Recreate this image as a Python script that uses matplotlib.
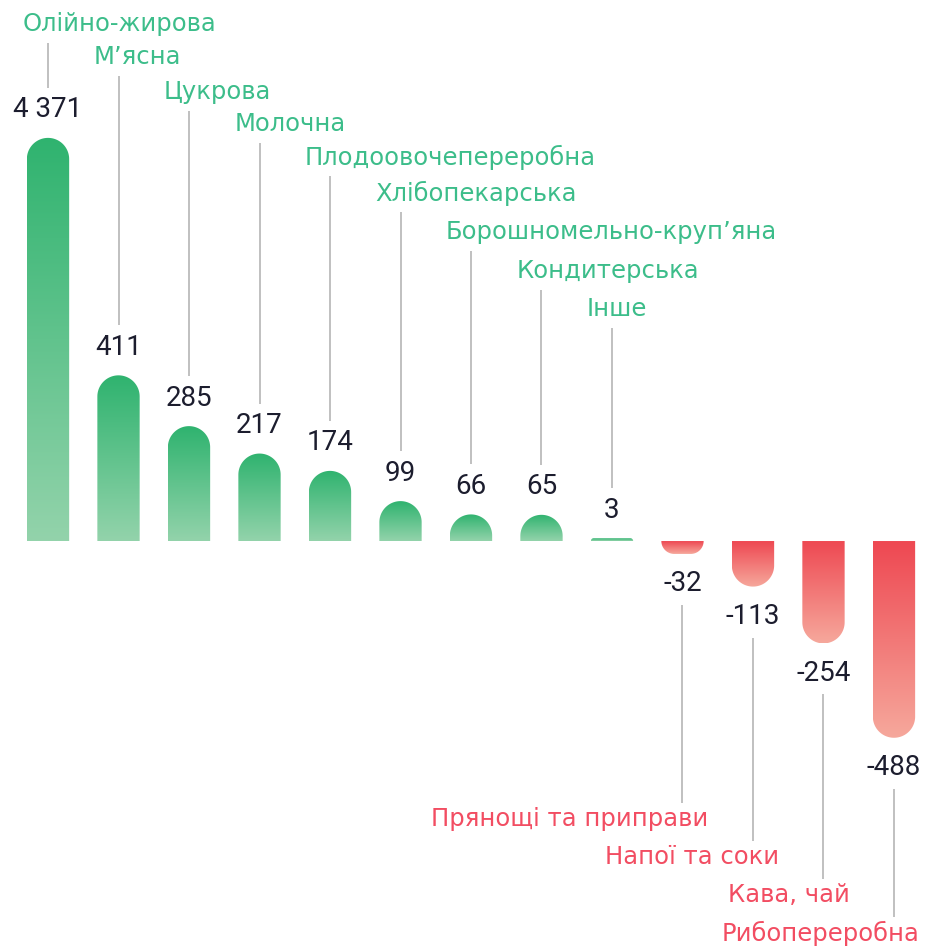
import matplotlib
matplotlib.use("Agg")
import matplotlib.pyplot as plt
import numpy as np
from matplotlib.path import Path
from matplotlib.patches import PathPatch
from matplotlib.colors import to_rgba

# data
categories = [
    "Олійно-жирова", "М’ясна", "Цукрова", "Молочна", "Плодоовочепереробна",
    "Хлібопекарська", "Борошномельно-круп’яна", "Кондитерська", "Інше",
    "Прянощі та приправи", "Напої та соки", "Кава, чай", "Рибопереробна",
]
values = [4371, 411, 285, 217, 174, 99, 66, 65, 3, -32, -113, -254, -488]
value_labels = ["4 371", "411", "285", "217", "174", "99", "66", "65", "3",
                "-32", "-113", "-254", "-488"]

# the biggest bar is cut off (broken scale)
display_cap = 1000
min_visible = 7

# layout (pixels from the top of the picture)
pos_label_rows = [24, 57, 92, 124, 157, 193, 232, 271, 309]
neg_label_rows = [819, 857, 895, 933]

W, H = 931, 947
green_top, green_bot = "#2fb36f", "#93d3ab"
red_top, red_bot = "#ee4852", "#f6a89c"
green_txt, red_txt = "#3cbd8a", "#f24d62"
num_txt = "#1c1d2e"
line_col = "#b5b5b5"

fig = plt.figure(figsize=(W / 100, H / 100), dpi=100)
ax = fig.add_axes([0, 0, 1, 1])
ax.axis("off")
xlim = (-0.681, 12.525)
ylim = (-1007, 1342)

sx = W / (xlim[1] - xlim[0])  # px per x unit
sy = H / (ylim[1] - ylim[0])  # px per y unit


def row_to_y(px):
    return ylim[1] - px / sy


bar_w = 0.6
x = np.arange(len(values))


def rounded_bar(x0, w, h):
    # round the far-end corners, radius in pixels = min(half width, height)
    sign = 1 if h >= 0 else -1
    r_px = min(w / 2 * sx, abs(h) * sy)
    rx, ry = r_px / sx, r_px / sy
    t = np.linspace(0, np.pi / 2, 30)
    # right corner: from side up to top
    c1x = x0 + w - rx + rx * np.cos(t)
    c1y = h - sign * ry + sign * ry * np.sin(t)
    # left corner: from top down to side
    c2x = x0 + rx - rx * np.sin(t)
    c2y = h - sign * ry + sign * ry * np.cos(t)
    verts = [(x0, 0), (x0 + w, 0)] + list(zip(c1x, c1y)) + list(zip(c2x, c2y)) + [(x0, 0)]
    codes = [Path.MOVETO] + [Path.LINETO] * (len(verts) - 2) + [Path.CLOSEPOLY]
    return Path(verts, codes)


for i, v in enumerate(values):
    h = np.sign(v) * min(max(abs(v), min_visible), display_cap)
    x0 = x[i] - bar_w / 2
    path = rounded_bar(x0, bar_w, h)
    patch = PathPatch(path, transform=ax.transData, facecolor="none", edgecolor="none")
    ax.add_patch(patch)
    c0, c1 = (green_top, green_bot) if v > 0 else (red_top, red_bot)
    grad = np.linspace(0, 1, 256)[:, None]
    rgba = np.array(to_rgba(c0)) * (1 - grad) + np.array(to_rgba(c1)) * grad
    img = ax.imshow(rgba[:, None, :], extent=[x0, x0 + bar_w, min(0, h), max(0, h)],
                    aspect="auto", interpolation="bilinear", origin="upper", zorder=2)
    img.set_clip_path(patch)

    if v > 0:
        top = h
        ax.text(x[i], top + 28 / sy, value_labels[i], ha="center", va="center",
                fontsize=20, color=num_txt, family=["Roboto", "DejaVu Sans"])
        ly = row_to_y(pos_label_rows[i])
        ax.text(x[i] - 25 / sx, ly, categories[i], ha="left", va="center",
                fontsize=17.5, color=green_txt, family=["DejaVu Sans"])
        ax.plot([x[i], x[i]], [ly - 19 / sy, top + 50 / sy], color=line_col, lw=1.2,
                solid_capstyle="butt")
    else:
        bot = h
        ax.text(x[i], bot - 30 / sy, value_labels[i], ha="center", va="center",
                fontsize=20, color=num_txt, family=["Roboto", "DejaVu Sans"])
        ly = row_to_y(neg_label_rows[i - 9])
        ax.text(x[i] + 26 / sx, ly, categories[i], ha="right", va="center",
                fontsize=17.5, color=red_txt, family=["DejaVu Sans"])
        ax.plot([x[i], x[i]], [bot - 51 / sy, ly + 16 / sy], color=line_col, lw=1.2,
                solid_capstyle="butt")

ax.set_xlim(*xlim)
ax.set_ylim(*ylim)
fig.savefig("out.png", dpi=100, facecolor="white")
